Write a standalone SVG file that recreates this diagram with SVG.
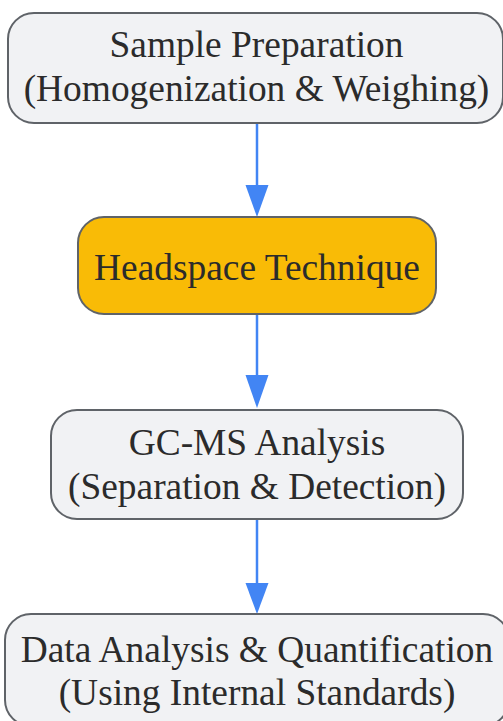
<svg xmlns="http://www.w3.org/2000/svg" width="503" height="721" viewBox="0 0 503 721">
  <style>
    .box { fill: #f1f2f4; stroke: #5f6368; stroke-width: 2; }
    .hl { fill: #f9bb06; stroke: #5f6368; stroke-width: 2; }
    .lbl { font-family: "Liberation Serif", "Times New Roman", serif; font-size: 37.4px; fill: #2b2b2b; text-anchor: middle; }
    .edge { stroke: #4285f4; stroke-width: 2.5; fill: none; }
    .head { fill: #4285f4; }
  </style>
  <rect width="503" height="721" fill="#ffffff"/>
  <g id="connectors">
    <line class="edge" x1="257" y1="123" x2="257" y2="188"/>
    <polygon class="head" points="245.5,185 268.5,185 257,217"/>
    <line class="edge" x1="257" y1="314" x2="257" y2="378"/>
    <polygon class="head" points="245.5,375 268.5,375 257,408"/>
    <line class="edge" x1="257" y1="519" x2="257" y2="586"/>
    <polygon class="head" points="245.5,583 268.5,583 257,614"/>
  </g>
  <g id="node-sample-preparation">
    <rect class="box" x="8" y="13" width="495" height="110" rx="26" ry="26"/>
    <text class="lbl" x="256.5" y="57">Sample Preparation</text>
    <text class="lbl" x="256.5" y="101">(Homogenization &amp; Weighing)</text>
  </g>
  <g id="node-headspace">
    <rect class="hl" x="78" y="217" width="358" height="97" rx="26" ry="26"/>
    <text class="lbl" x="257" y="280">Headspace Technique</text>
  </g>
  <g id="node-gcms">
    <rect class="box" x="51" y="410" width="412" height="109" rx="26" ry="26"/>
    <text class="lbl" x="257" y="455">GC-MS Analysis</text>
    <text class="lbl" x="257" y="499">(Separation &amp; Detection)</text>
  </g>
  <g id="node-data-analysis">
    <rect class="box" x="5" y="614" width="504" height="112" rx="26" ry="26"/>
    <text class="lbl" x="257" y="662">Data Analysis &amp; Quantification</text>
    <text class="lbl" x="257" y="705">(Using Internal Standards)</text>
  </g>
</svg>
